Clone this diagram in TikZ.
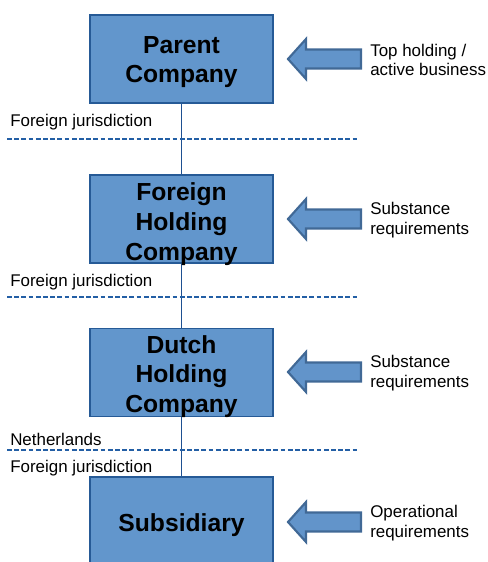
\documentclass[tikz,border=0pt]{standalone}
\usepackage{fontspec}
\setmainfont{Liberation Sans}
\definecolor{boxfill}{RGB}{98,150,204}
\definecolor{boxline}{RGB}{38,90,150}
\definecolor{arrfill}{RGB}{98,148,202}
\definecolor{arrline}{RGB}{65,105,150}
\definecolor{dashcol}{RGB}{35,95,165}
\definecolor{linkcol}{RGB}{30,80,145}
\begin{document}
\begin{tikzpicture}[x=0.75pt,y=-0.75pt,
  entity/.style={draw=boxline,fill=boxfill,line width=1.2pt,minimum width=183*0.75pt,
    minimum height=88*0.75pt,inner sep=0pt},
  link/.style={draw=linkcol,line width=1.2pt},
  border/.style={draw=dashcol,dash pattern=on 3.6pt off 1.8pt,line width=0.95pt},
  juris/.style={anchor=base west,inner sep=0pt,font=\fontsize{12.7}{14}\selectfont},
  note/.style={anchor=west,inner sep=0pt,align=left,font=\fontsize{12.7}{14.5}\selectfont},
  blockarrow/.style={draw=arrline,fill=arrfill,line width=1.6pt,line join=miter},
  lbl/.style={inner sep=0pt,align=center,font=\fontsize{18.5}{22.3}\selectfont\bfseries}]
\useasboundingbox (0,0) rectangle (488,562);
\clip (0,0) rectangle (488,562);
% boxes
\node[entity] (parent) at (181.5,59) {};
\node[entity] (foreign) at (181.5,219) {};
\node[entity] (dutch) at (181.5,372.5) {};
\node[entity,minimum height=90*0.75pt] (sub) at (181.5,522) {};
% links
\draw[link] (parent.south) -- (foreign.north);
\draw[link] (foreign.south) -- (dutch.north);
\draw[link] (dutch.south) -- (sub.north);
% box texts
\node[lbl] (tparent) at (181.5,62) {Parent\\Company};
\node[lbl] (tforeign) at (181.5,224) {Foreign\\Holding\\Company};
\node[lbl] (tdutch) at (181.5,376.5) {Dutch\\Holding\\Company};
\node[lbl] (tsub) at (181.5,525) {Subsidiary};
% jurisdiction borders
\coordinate (b1l) at (7,139); \coordinate (b1r) at (357,139);
\coordinate (b2l) at (7,297); \coordinate (b2r) at (357,297);
\coordinate (b3l) at (7,450); \coordinate (b3r) at (357,450);
\draw[border] (b1l) -- (b1r);
\draw[border] (b2l) -- (b2r);
\draw[border] (b3l) -- (b3r);
\node[juris] (j1) at (10,126) {Foreign jurisdiction};
\node[juris] (j2) at (10,286) {Foreign jurisdiction};
\node[juris] (nl) at (10,445) {Netherlands};
\node[juris] (j3) at (10,472) {Foreign jurisdiction};
% block arrows
\foreach \yc/\nm in {59/a1,219/a2,372/a3,522/a4}{
  \draw[blockarrow] (288,\yc) -- (306,\yc-20) -- (306,\yc-9.5) -- (361,\yc-9.5)
     -- (361,\yc+9.5) -- (306,\yc+9.5) -- (306,\yc+20) -- cycle;
}
% notes
\node[note] (n1) at (370,60) {Top holding /\\active business};
\node[note] (n2) at (370,220) {Substance\\requirements};
\node[note] (n3) at (370,373) {Substance\\requirements};
\node[note] (n4) at (370,523) {Operational\\requirements};
\end{tikzpicture}
\end{document}
